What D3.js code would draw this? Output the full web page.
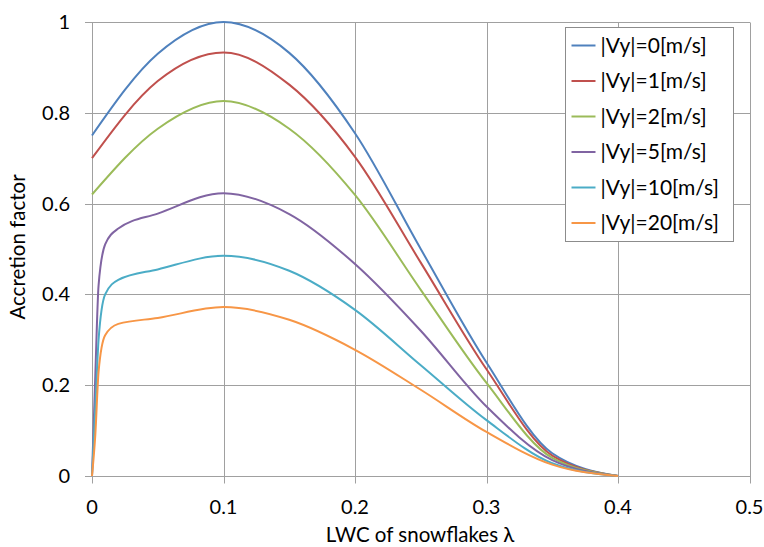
<!DOCTYPE html>
<html lang="en">
<head>
<meta charset="utf-8">
<script src="https://d3js.org/d3.v7.min.js"></script>
<style>
  body { margin: 0; background: #fff; }
  text { font-family: Lato, "Open Sans", sans-serif; fill: #000; }
  .grid line { stroke: #a0a0a0; stroke-width: 1; }
  .series { fill: none; stroke-width: 2; }
</style>
</head>
<body>
<svg id="chart" width="764" height="547"></svg>
<script>
// x values (LWC of snowflakes) - coarse grid for the low-speed curves,
// finer near zero for the ones that start at 0
var lwcCoarse = [0, 0.05, 0.1, 0.15, 0.2, 0.25, 0.3, 0.35, 0.4];
var lwcFine = [0, 0.0025, 0.005, 0.01, 0.02, 0.05, 0.1, 0.15, 0.2, 0.25, 0.3, 0.35, 0.4];

// accretion factor for each |Vy|
var vy0  = [0.75, 0.93, 1.0, 0.932, 0.755, 0.50, 0.25, 0.05, 0];
var vy1  = [0.70, 0.87, 0.933, 0.862, 0.703, 0.47, 0.235, 0.045, 0];
var vy2  = [0.62, 0.765, 0.826, 0.765, 0.619, 0.41, 0.205, 0.04, 0];
var vy5  = [0, 0.22, 0.42, 0.51, 0.545, 0.578, 0.623, 0.577, 0.467, 0.32, 0.153, 0.035, 0];
var vy10 = [0, 0.15, 0.30, 0.40, 0.432, 0.455, 0.485, 0.452, 0.366, 0.244, 0.123, 0.028, 0];
var vy20 = [0, 0.09, 0.23, 0.31, 0.335, 0.348, 0.372, 0.344, 0.278, 0.19, 0.097, 0.025, 0];

var seriesNames = ["|Vy|=0[m/s]", "|Vy|=1[m/s]", "|Vy|=2[m/s]", "|Vy|=5[m/s]", "|Vy|=10[m/s]", "|Vy|=20[m/s]"];
var seriesColors = ["#4f81bd", "#c0504d", "#9bbb59", "#8064a2", "#4bacc6", "#f79646"];
var seriesValues = [vy0, vy1, vy2, vy5, vy10, vy20];
var seriesX = [lwcCoarse, lwcCoarse, lwcCoarse, lwcFine, lwcFine, lwcFine];

var xTicks = [0, 0.1, 0.2, 0.3, 0.4, 0.5];
var yTicks = [0, 0.2, 0.4, 0.6, 0.8, 1];

var svg = d3.select("#chart");
var plotL = 92, plotR = 749.5, plotT = 22, plotB = 476;

var x = d3.scaleLinear().domain([0, 0.5]).range([plotL, plotR]);
var y = d3.scaleLinear().domain([0, 1]).range([plotB, plotT]);

// gridlines, with the short tick stubs outside the plot
var grid = svg.append("g").attr("class", "grid");
grid.selectAll(".vg").data(xTicks).enter().append("line")
    .attr("x1", function(d) { return Math.round(x(d)) + 0.5; })
    .attr("x2", function(d) { return Math.round(x(d)) + 0.5; })
    .attr("y1", plotT + 0.5).attr("y2", plotB + 7.5);
grid.selectAll(".hg").data(yTicks).enter().append("line")
    .attr("x1", plotL - 7).attr("x2", plotR + 0.5)
    .attr("y1", function(d) { return Math.round(y(d)) + 0.5; })
    .attr("y2", function(d) { return Math.round(y(d)) + 0.5; });

// tick labels
svg.append("g").selectAll("text").data(xTicks).enter().append("text")
    .attr("x", function(d) { return x(d); })
    .attr("y", 507)
    .attr("dy", "0.35em")
    .attr("text-anchor", "middle")
    .style("font-size", "20px")
    .text(function(d) { return d3.format("")(d); });
svg.append("g").selectAll("text").data(yTicks).enter().append("text")
    .attr("x", 70)
    .attr("y", function(d) { return y(d); })
    .attr("dy", "0.35em")
    .attr("text-anchor", "end")
    .style("font-size", "20px")
    .text(function(d) { return d3.format("")(d); });

// axis titles
svg.append("text")
    .attr("x", 420).attr("y", 535).attr("dy", "0.35em")
    .attr("text-anchor", "middle")
    .style("font-size", "20.5px")
    .text("LWC of snowflakes λ");
svg.append("text")
    .attr("transform", "translate(18,247) rotate(-90)")
    .attr("dy", "0.35em")
    .attr("text-anchor", "middle")
    .style("font-size", "20.5px")
    .text("Accretion factor");

// curves
svg.append("g").selectAll("path").data(seriesValues).enter().append("path")
    .attr("class", "series")
    .attr("d", function(vals, i) {
        var xs = seriesX[i];
        return d3.line()
            .x(function(d, j) { return x(xs[j]); })
            .y(function(d) { return y(d); })
            .curve(d3.curveMonotoneX)(vals);
    })
    .style("stroke", function(d, i) { return seriesColors[i]; });

// legend
var lg = svg.append("g").attr("transform", "translate(565.5,27.5)");
lg.append("rect").attr("width", 168).attr("height", 214)
    .style("fill", "#fff").style("stroke", "#8c8c8c");
var items = lg.selectAll(".item").data(seriesNames).enter().append("g")
    .attr("transform", function(d, i) { return "translate(0," + (18 + i * 35.5) + ")"; });
items.append("line").attr("x1", 6).attr("x2", 30)
    .style("stroke", function(d, i) { return seriesColors[i]; })
    .style("stroke-width", 2);
items.append("text").attr("x", 35).attr("dy", "0.35em")
    .style("font-size", "21px")
    .text(function(d) { return d; });
</script>
</body>
</html>
